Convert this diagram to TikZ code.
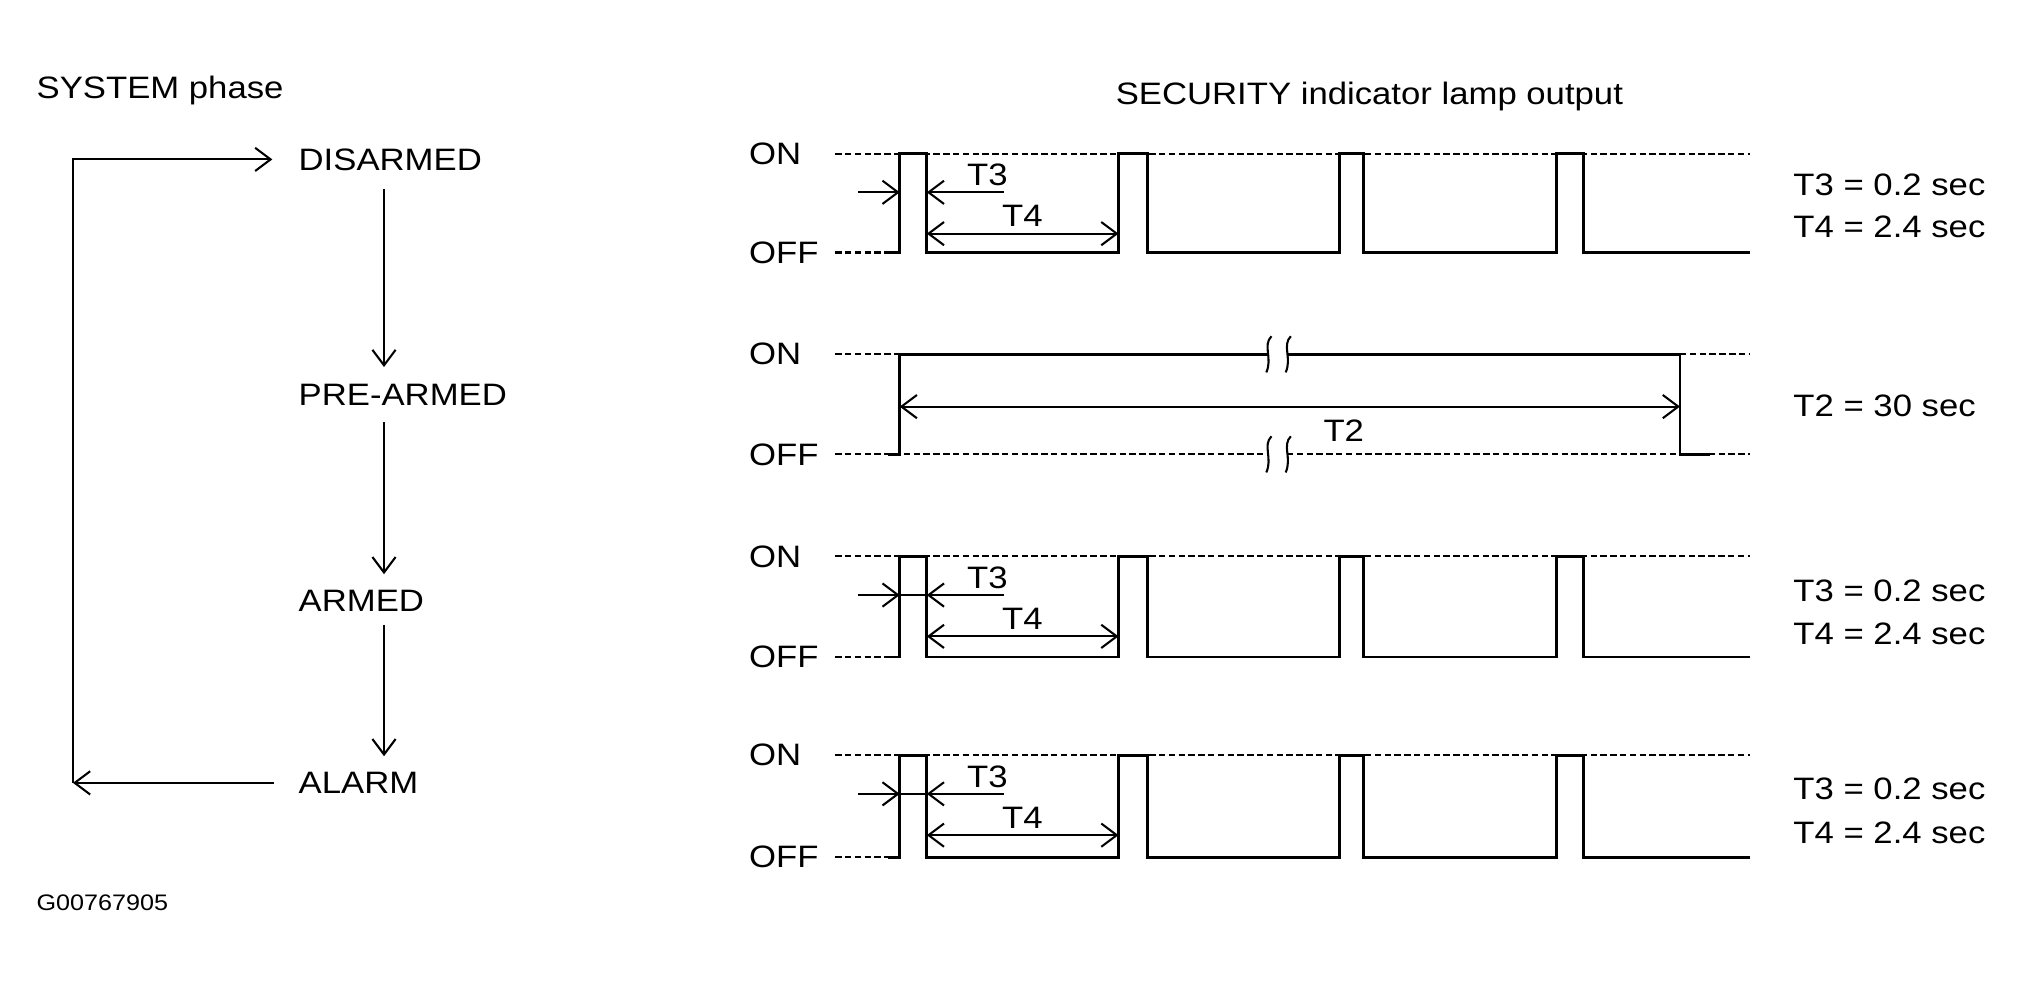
\documentclass[tikz,border=0pt]{standalone}
\usepackage{fontspec}
\setmainfont[FakeStretch=1.12]{Liberation Sans}
\usetikzlibrary{arrows.meta,calc}
\begin{document}
\begin{tikzpicture}[x=0.5pt,y=-0.5pt,
  lbl/.style={font=\fontsize{12}{14}\selectfont, inner sep=0pt},
  conn/.style={line width=0.8pt, -{Straight Barb[length=6pt,width=9pt,line width=0.8pt]}},
  dimarr/.style={line width=0.85pt, {Straight Barb[length=6pt,width=9pt,line width=0.8pt]}-{Straight Barb[length=6pt,width=9pt,line width=0.8pt]}},
  dimline/.style={line width=0.85pt},
  sig/.style={line width=1.1pt, line join=miter},
  refl/.style={line width=0.8pt, dash pattern=on 2.5pt off 1.3pt},
  brk/.style={line width=0.8pt},
]
\useasboundingbox (0,0) rectangle (1568,764);

% ---------- left: system phases ----------
\node[lbl,anchor=base west] (sys) at (28,76.5) {SYSTEM phase};
\node[lbl,anchor=west] (dis) at (231,123.5) {DISARMED};
\node[lbl,anchor=west] (pre) at (231,306) {PRE-ARMED};
\node[lbl,anchor=west] (arm) at (231,465.5) {ARMED};
\node[lbl,anchor=west] (alm) at (231,606.5) {ALARM};
\node[font=\fontsize{8.7}{10}\selectfont, inner sep=0pt, anchor=base west] (code) at (28,705) {G00767905};

\coordinate (spine) at (297.5,0);
\coordinate (loopx) at (56.5,0);
\draw[conn, shorten <=7pt, shorten >=6.5pt] (dis.south -| spine) -- (pre.north -| spine);
\draw[conn, shorten <=6.2pt, shorten >=6pt] (pre.south -| spine) -- (arm.north -| spine);
\draw[conn, shorten <=5pt, shorten >=6pt] (arm.south -| spine) -- (alm.north -| spine);
\draw[conn, shorten <=9.25pt] (alm.west) -- (alm.west -| loopx);
\draw[conn, shorten >=10pt] (alm.west -| loopx) |- (dis.west);

% ---------- right: lamp output ----------
\node[lbl,anchor=base west] (sec) at (864,81) {SECURITY indicator lamp output};

% pulse rows
\foreach \i/\on/\off/\ya/\yb/\flag in {1/119/195.6/143/175.5/0, 3/431/509/458/491/1, 4/585/664/611/645/1}{
  \node[lbl,anchor=west] (on\i) at (580,\on) {ON};
  \node[lbl,anchor=west] (off\i) at (580,\off) {OFF};
  \draw[refl] (647,\on) -- (1356,\on);
  \draw[refl] (647,\off) -- (697,\off);
  \draw[sig] (688,\off) -- (697,\off) -- (697,\on) -- (718,\on) -- (718,\off)
    -- (866.5,\off) -- (866.5,\on) -- (889,\on) -- (889,\off)
    -- (1037.5,\off) -- (1037.5,\on) -- (1056.5,\on) -- (1056.5,\off)
    -- (1205.5,\off) -- (1205.5,\on) -- (1226.5,\on) -- (1226.5,\off) -- (1356,\off);
  \coordinate (a\i) at (665,{\on+30});
  \coordinate (b\i) at (697,{\on+30});
  \coordinate (c\i) at (718,{\on+30});
  \coordinate (d\i) at (777.5,{\on+30});
  \coordinate (e\i) at (718,{\on+62});
  \coordinate (f\i) at (866.5,{\on+62});
  \draw[conn] (a\i) -- (b\i);
  \draw[conn] (d\i) -- (c\i);
  \ifnum\flag=1 \draw[dimline] (b\i) -- (c\i); \fi
  \draw[dimarr] (e\i) -- (f\i);
  \node[lbl] (tthree\i) at (765,{\on+16.7}) {T3};
  \node[lbl] (tfour\i) at (792,{\on+48.3}) {T4};
  \node[lbl,anchor=west] (eqa\i) at (1389,\ya) {T3 = 0.2 sec};
  \node[lbl,anchor=west] (eqb\i) at (1389,\yb) {T4 = 2.4 sec};
}

% row 2 (pre-armed)
\node[lbl,anchor=west] (on2) at (580,274.5) {ON};
\node[lbl,anchor=west] (off2) at (580,352) {OFF};
\draw[refl] (647,274.5) -- (697,274.5);
\draw[refl] (1301.5,274.5) -- (1356,274.5);
\draw[refl] (647,352) -- (982,352);
\draw[refl] (997,352) -- (1356,352);
\draw[sig] (688,352) -- (697,352) -- (697,274.5) -- (982,274.5);
\draw[sig] (997,274.5) -- (1301.5,274.5) -- (1301.5,352) -- (1325,352);
\foreach \bx in {982,997}{
  \foreach \by in {274.5,352}{
    \draw[brk] ({\bx+3},{\by-14}) .. controls ({\bx-4},{\by-7}) and ({\bx+4},{\by+3}) .. ({\bx-1},{\by+14});
  }
}
\coordinate (ta) at (697,315);
\coordinate (tb) at (1301.5,315);
\draw[dimarr] (ta) -- (tb);
\node[lbl] (ttwo) at (1041,334) {T2};
\node[lbl,anchor=west] (eqc) at (1389,314.5) {T2 = 30 sec};
\end{tikzpicture}
\end{document}
